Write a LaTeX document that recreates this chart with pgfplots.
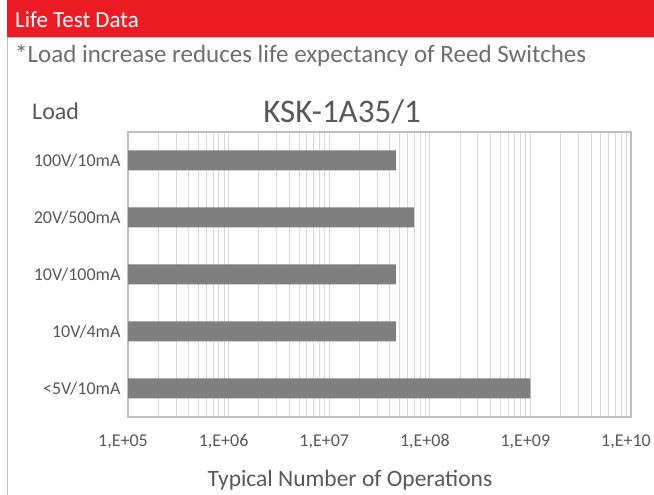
\documentclass[border=0pt]{standalone}
\usepackage{pgfplots}
\pgfplotsset{compat=1.18}
\usepackage{fontspec}
\setmainfont{Carlito}
\definecolor{hdrred}{HTML}{ED1C24}
\definecolor{txtgray}{HTML}{595959}
\definecolor{subgray}{HTML}{6E6E6E}
\definecolor{gridgray}{HTML}{D9D9D9}
\definecolor{boxgray}{HTML}{BFBFBF}
\definecolor{bargray}{HTML}{7F7F7F}
\begin{document}
\begin{tikzpicture}[x=1pt,y=1pt]
\useasboundingbox (0,0) rectangle (654,495);
\fill[white] (0,0) rectangle (654,495);
\fill[hdrred] (7,458) rectangle (654,495);
\draw[boxgray] (7,457.5) -- (654,457.5);
\draw[boxgray] (7,0) -- (7,458);
\node[anchor=base west, text=white, font=\fontsize{23}{26}\selectfont, inner sep=0] at (15,467) {Life Test Data};
\node[anchor=base west, text=subgray, font=\fontsize{25}{28}\selectfont, inner sep=0] at (15,432) {*Load increase reduces life expectancy of Reed Switches};
\node[anchor=base west, text=txtgray, font=\fontsize{24}{27}\selectfont, inner sep=0] at (32,375) {Load};
\node[anchor=base, text=txtgray, font=\fontsize{33}{38}\selectfont, inner sep=0] at (342,372) {KSK-1A35/1};
\node[anchor=base, text=txtgray, font=\fontsize{23.5}{27}\selectfont, inner sep=0] at (350,8) {Typical Number of Operations};
\begin{axis}[
  at={(128pt,78pt)}, anchor=south west,
  width=503pt, height=285pt, scale only axis,
  xmode=log, xmin=1e5, xmax=1e10,
  log origin x=infty,
  ymin=-0.5, ymax=4.5,
  xtick={1e5,1e6,1e7,1e8,1e9,1e10},
  xticklabels={{1,E+05},{1,E+06},{1,E+07},{1,E+08},{1,E+09},{1,E+10}},
  ytick={0,1,2,3,4},
  yticklabels={{<5V/10mA},{10V/4mA},{10V/100mA},{20V/500mA},{100V/10mA}},
  major tick length=0pt, minor tick length=0pt,
  xmajorgrids, xminorgrids,
  major grid style={gridgray, line width=1pt},
  minor grid style={gridgray, line width=0.8pt},
  axis line style={boxgray, line width=1.5pt},
  tick label style={text=txtgray, font=\fontsize{18}{21}\selectfont},
  xticklabel style={anchor=base, yshift=-30pt, xshift=-5pt},
  yticklabel style={xshift=-4pt},
  xbar, bar width=20pt,
]
\addplot[fill=bargray, draw=none] coordinates {
  (1e9,0) (4.6e7,1) (4.6e7,2) (7e7,3) (4.6e7,4)
};
\end{axis}
\end{tikzpicture}
\end{document}
